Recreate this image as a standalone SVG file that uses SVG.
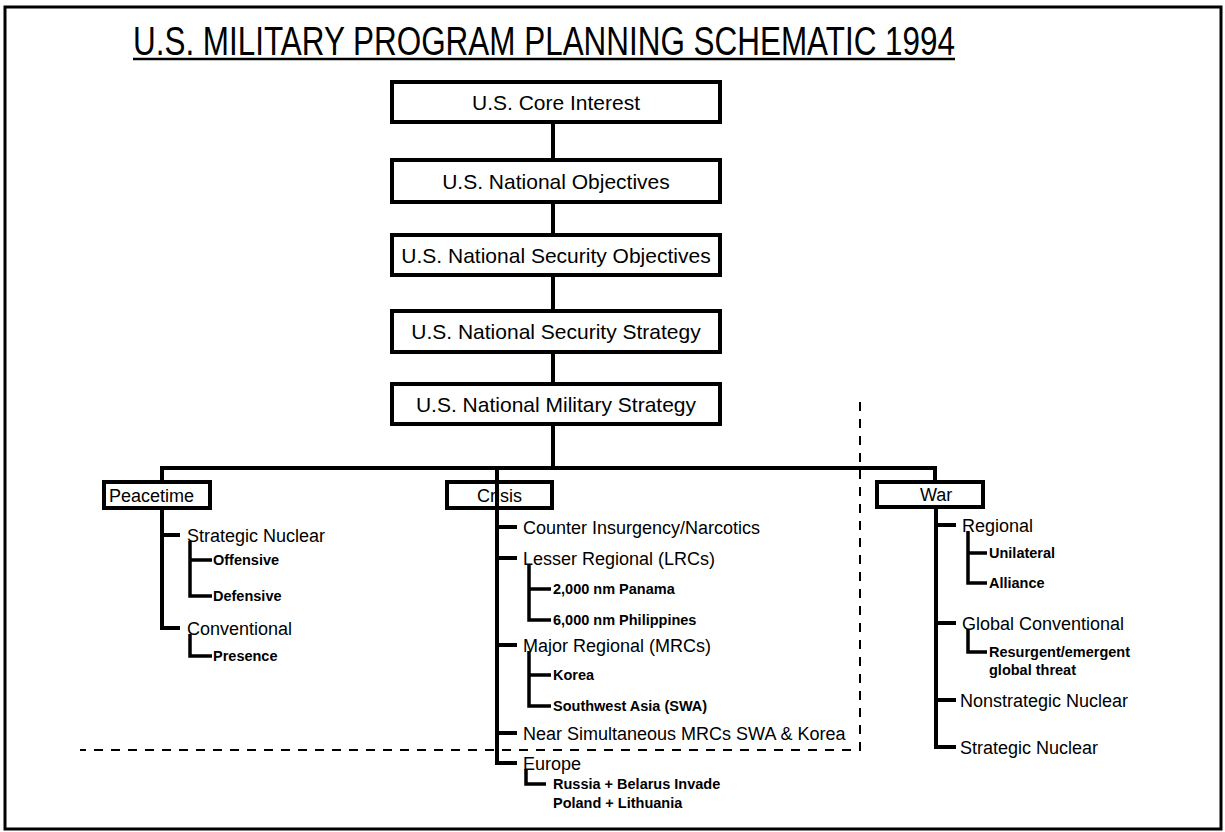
<svg xmlns="http://www.w3.org/2000/svg" width="1225" height="832" viewBox="0 0 1225 832">
<style>
text{font-family:"Liberation Sans",Arial,sans-serif;fill:#000}
.box{fill:#fff;stroke:#000;stroke-width:4}
.ln{stroke:#000;stroke-width:4;fill:none}
.sub{stroke:#000;stroke-width:3.5;fill:none}
.dash{stroke:#000;stroke-width:2;stroke-dasharray:9 8;fill:none}
.bt{font-size:21px;text-anchor:middle}
.l18{font-size:18px}
.l15{font-size:14.5px;font-weight:bold}
</style>
<rect x="0" y="0" width="1225" height="832" fill="#fff"/>
<rect x="5" y="7" width="1216" height="822" fill="none" stroke="#000" stroke-width="3"/>
<g id="title">
<text x="133" y="55" font-size="41" textLength="822" lengthAdjust="spacingAndGlyphs">U.S. MILITARY PROGRAM PLANNING SCHEMATIC 1994</text>
<line x1="133" y1="59" x2="955" y2="59" stroke="#000" stroke-width="2.5"/>
</g>
<g id="connectors">
<path class="ln" d="M553 122V160M553 202V235M553 275V311M553 352V384M553 424V468M162 482V468H935V482"/>
<path class="ln" d="M162 508V628H180M162 535H180"/>
<path class="sub" d="M190 541V596H212M190 560H212M190 634V656H212"/>
<path class="ln" d="M497 468V763H517M497 527H517M497 558H517M497 645H517M497 733H517"/>
<path class="sub" d="M529 564V620H551M529 589H551M529 651V706H551M529 675H551M526 769V784H546"/>
<path class="ln" d="M936 507V747H956M936 525H956M936 623H956M936 700H956"/>
<path class="sub" d="M968 531V583H987M968 553H987M968 629V652H987"/>
<path class="dash" d="M860 402V750H80"/>
</g>
<g id="n-core"><rect class="box" x="392" y="82" width="328" height="40"/><text class="bt" x="556" y="110">U.S. Core Interest</text></g>
<g id="n-natobj"><rect class="box" x="392" y="160" width="328" height="42"/><text class="bt" x="556" y="188.5">U.S. National Objectives</text></g>
<g id="n-secobj"><rect class="box" x="392" y="235" width="328" height="40"/><text class="bt" x="556" y="262.5">U.S. National Security Objectives</text></g>
<g id="n-secstrat"><rect class="box" x="392" y="311" width="328" height="41"/><text class="bt" x="556" y="339">U.S. National Security Strategy</text></g>
<g id="n-milstrat"><rect class="box" x="392" y="384" width="328" height="40"/><text class="bt" x="556" y="411.5">U.S. National Military Strategy</text></g>
<g id="n-peacetime">
<rect class="box" x="104" y="482" width="106" height="26"/><text class="l18" x="109" y="501.5">Peacetime</text>
<text class="l18" x="187" y="541.5">Strategic Nuclear</text>
<text class="l15" x="213" y="565">Offensive</text>
<text class="l15" x="213" y="601">Defensive</text>
<text class="l18" x="187" y="634.5">Conventional</text>
<text class="l15" x="213" y="661">Presence</text>
</g>
<g id="n-crisis">
<rect class="box" x="447" y="482" width="105" height="26"/><text class="l18" x="477" y="501.5">Crisis</text>
<line class="ln" x1="497" y1="468" x2="497" y2="508"/>
<text class="l18" x="523" y="533.5">Counter Insurgency/Narcotics</text>
<text class="l18" x="523" y="564.5">Lesser Regional (LRCs)</text>
<text class="l15" x="553" y="594">2,000 nm Panama</text>
<text class="l15" x="553" y="625">6,000 nm Philippines</text>
<text class="l18" x="523" y="651.5">Major Regional (MRCs)</text>
<text class="l15" x="553" y="680">Korea</text>
<text class="l15" x="553" y="711">Southwest Asia (SWA)</text>
<text class="l18" x="523" y="739.5">Near Simultaneous MRCs SWA &amp; Korea</text>
<text class="l18" x="523" y="769.5">Europe</text>
<text class="l15" x="553" y="789">Russia + Belarus Invade</text>
<text class="l15" x="553" y="808">Poland + Lithuania</text>
</g>
<g id="n-war">
<rect class="box" x="877" y="482" width="106" height="25"/><text class="l18" x="920" y="501">War</text>
<text class="l18" x="962" y="531.5">Regional</text>
<text class="l15" x="989" y="558">Unilateral</text>
<text class="l15" x="989" y="588">Alliance</text>
<text class="l18" x="962" y="629.5">Global Conventional</text>
<text class="l15" x="989" y="657">Resurgent/emergent</text>
<text class="l15" x="989" y="675">global threat</text>
<text class="l18" x="960" y="706.5">Nonstrategic Nuclear</text>
<text class="l18" x="960" y="753.5">Strategic Nuclear</text>
</g>
</svg>
